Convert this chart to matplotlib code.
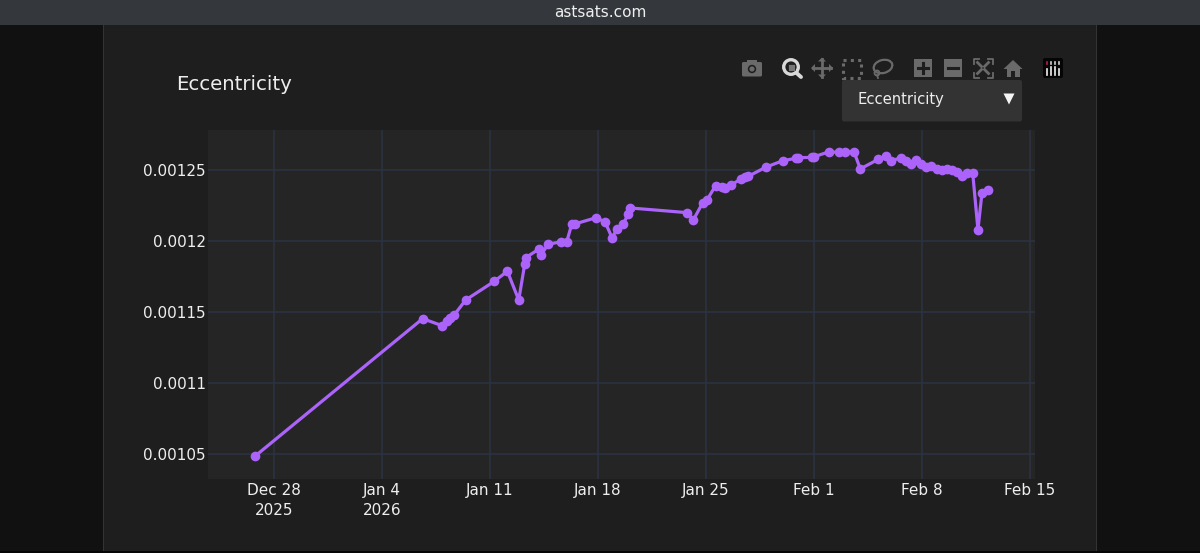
import numpy as np
import matplotlib
matplotlib.use("Agg")
import matplotlib.pyplot as plt
import matplotlib.dates as mdates
from matplotlib.patches import Rectangle, FancyBboxPatch, Circle, Polygon, Ellipse
from datetime import datetime, timedelta

# Data
start_date = datetime(2025, 12, 28)
days_since_start = [-1.26, 9.64, 10.91, 11.20, 11.41, 11.67, 12.43, 14.29, 15.13, 15.87,
                    16.26, 16.32, 17.19, 17.32, 17.77, 18.63, 18.98, 19.31, 19.50, 20.88,
                    21.47, 21.92, 22.24, 22.65, 22.98, 23.11, 26.80, 27.19, 27.80, 28.06,
                    28.64, 29.03, 29.25, 29.64, 30.29, 30.54, 30.76, 31.89, 32.99, 33.85,
                    33.98, 34.87, 35.04, 35.97, 36.62, 37.03, 37.61, 38.02, 39.19, 39.69,
                    39.99, 40.64, 40.99, 41.29, 41.63, 41.94, 42.28, 42.61, 42.98, 43.30,
                    43.63, 43.95, 44.27, 44.60, 44.92, 45.31, 45.65, 45.91, 46.32]
eccentricity_e6 = [1047.9, 1145.3, 1140.3, 1143.6, 1145.5, 1147.7, 1158.5, 1171.7, 1178.8, 1158.5,
                   1184.1, 1188.4, 1194.5, 1190.3, 1197.8, 1199.7, 1199.5, 1212.2, 1212.2, 1216.6,
                   1213.6, 1202.5, 1208.4, 1212.4, 1219.3, 1223.5, 1220.2, 1215.0, 1227.2, 1228.9,
                   1239.3, 1238.6, 1237.4, 1239.8, 1244.0, 1245.2, 1245.9, 1252.3, 1256.9, 1258.6,
                   1259.0, 1259.3, 1259.8, 1263.1, 1262.9, 1263.1, 1263.3, 1251.1, 1257.9, 1260.2,
                   1256.9, 1258.8, 1256.5, 1254.6, 1257.2, 1254.6, 1252.5, 1253.2, 1251.3, 1250.1,
                   1250.8, 1250.6, 1248.9, 1245.9, 1248.4, 1248.2, 1208.2, 1233.9, 1236.0]
x_tick_dates = [datetime(2025, 12, 28), datetime(2026, 1, 4), datetime(2026, 1, 11), datetime(2026, 1, 18),
                datetime(2026, 1, 25), datetime(2026, 2, 1), datetime(2026, 2, 8), datetime(2026, 2, 15)]
x_tick_labels = ["Dec 28\n2025", "Jan 4\n2026", "Jan 11", "Jan 18", "Jan 25", "Feb 1", "Feb 8", "Feb 15"]
y_ticks = [0.00105, 0.0011, 0.00115, 0.0012, 0.00125]
y_tick_labels = ["0.00105", "0.0011", "0.00115", "0.0012", "0.00125"]

W, H = 1200, 553
fig = plt.figure(figsize=(W / 100, H / 100), dpi=100, facecolor="#111111")

# Page chrome drawn in pixel coordinates
bg = fig.add_axes([0, 0, 1, 1], zorder=0)
bg.set_xlim(0, W)
bg.set_ylim(H, 0)
bg.axis("off")
bg.add_patch(Rectangle((0, 0), W, 25, color="#34383c", lw=0))
bg.add_patch(Rectangle((103, 25), 994, H - 27, color="#1e1e1e", lw=0))
bg.add_patch(Rectangle((0, 551), W, 2, color="#050505", lw=0))
bg.add_patch(Rectangle((103, 25), 1.3, H - 27, color="#333333", lw=0))
bg.add_patch(Rectangle((1095.7, 25), 1.3, H - 27, color="#333333", lw=0))
bg.text(600, 12.5, "astsats.com", color="#eeeeee", fontsize=11, ha="center", va="center")
bg.text(176.5, 84, "Eccentricity", color="#eeeeee", fontsize=14.2, ha="left", va="center")

# Toolbar icons
G = "#6a6a6a"
bg.add_patch(FancyBboxPatch((742, 62), 20, 14.5, boxstyle="round,pad=0,rounding_size=1.5", color=G, lw=0))
bg.add_patch(Rectangle((747, 59.5), 10, 3.5, color=G, lw=0))
bg.add_patch(Circle((752, 69), 4.2, fc="#1e1e1e", ec="none"))
bg.add_patch(Circle((752, 69), 2.6, fc=G, ec="none"))
Z = "#d8d8d8"
bg.add_patch(Circle((791, 67), 7.3, fc="none", ec=Z, lw=2.4))
bg.add_patch(Rectangle((787.5, 63.5), 7, 7, fc="#777777", ec="#1e1e1e", lw=0.6))
bg.plot([796, 801], [72.5, 77], color=Z, lw=2.8, solid_capstyle="round")
bg.plot([813, 831], [68, 68], color=G, lw=2)
bg.plot([822, 822], [59, 77], color=G, lw=2)
for mx, my, dx, dy in [(811, 68, 4, 0), (833, 68, -4, 0), (822, 57.5, 0, 4), (822, 78.5, 0, -4)]:
    bg.add_patch(Polygon([(mx, my), (mx + dx + dy, my + dy + dx), (mx + dx - dy, my + dy - dx)], color=G, lw=0))
bg.add_patch(Rectangle((843, 60), 18, 18, fc="none", ec=G, lw=2.2, ls=(0, (1, 1.4))))
bg.add_patch(Ellipse((883, 66.5), 19, 13, angle=-15, fc="none", ec=G, lw=1.6))
bg.add_patch(Circle((877, 73), 2.5, fc="none", ec=G, lw=1.3))
bg.plot([877, 878], [75, 78], color=G, lw=1.3)
bg.add_patch(Rectangle((914, 59), 18, 18, color=G, lw=0))
bg.plot([918, 928], [68, 68], color="#1e1e1e", lw=2.2)
bg.plot([923, 923], [63, 73], color="#1e1e1e", lw=2.2)
bg.add_patch(Rectangle((944, 59), 18, 18, color=G, lw=0))
bg.plot([948, 958], [68, 68], color="#1e1e1e", lw=2.2)
for sx, sy in [(-1, -1), (1, -1), (-1, 1), (1, 1)]:
    cx, cy = 983 + sx * 9.5, 68 + sy * 9.5
    bg.plot([cx - sx * 5, cx, cx], [cy, cy, cy - sy * 5], color=G, lw=1.3)
    bg.plot([983 + sx * 1.5, 983 + sx * 5.5], [68 + sy * 1.5, 68 + sy * 5.5], color=G, lw=2)
bg.add_patch(Polygon([(1003.5, 69), (1013, 60), (1022.5, 69)], color=G, lw=0))
bg.add_patch(Rectangle((1006.5, 69), 13, 7.5, color=G, lw=0))
bg.add_patch(Rectangle((1011, 71), 4, 5.5, color="#1e1e1e", lw=0))
bg.add_patch(FancyBboxPatch((1043, 58), 20, 20, boxstyle="round,pad=0,rounding_size=2", color="#050505", lw=0))
for bx, top in zip([1047, 1051, 1055, 1059], [69, 67, 67, 69]):
    bg.plot([bx, bx], [top, 74.5], color="#f0f0f0", lw=1.2)
    bg.plot([bx, bx], [62, 64], color="#b02050" if bx == 1047 else "#d0d0d0", lw=1.2)

# Dropdown
bg.add_patch(FancyBboxPatch((842, 80), 180, 41.5, boxstyle="round,pad=0,rounding_size=2", color="#333333", lw=0))
bg.text(857.5, 99.5, "Eccentricity", color="#eeeeee", fontsize=10.6, ha="left", va="center")
bg.add_patch(Polygon([(1003.5, 93.5), (1014.5, 93.5), (1009, 104.5)], color="#f5f5f5", lw=0))

# Plot
ax = fig.add_axes([208.5 / W, 1 - 479 / H, (1035 - 208.5) / W, (479 - 130) / H], zorder=1, facecolor="#252525")
dates = [start_date + timedelta(days=d) for d in days_since_start]
values = [v * 1e-6 for v in eccentricity_e6]
ax.plot(dates, values, color="#ab63fa", lw=2.3, marker="o", ms=7, mew=0, zorder=3, clip_on=False)
ax.set_xlim(start_date + timedelta(days=-4.25), start_date + timedelta(days=49.35))
ax.set_ylim(1032.0e-6, 1278.6e-6)
ax.set_xticks([mdates.date2num(d) for d in x_tick_dates])
ax.set_xticklabels(x_tick_labels, linespacing=1.38)
ax.set_yticks(y_ticks)
ax.set_yticklabels(y_tick_labels)
ax.grid(True, color="#2a3340", lw=1.2)
ax.set_axisbelow(True)
for s in ax.spines.values():
    s.set_visible(False)
ax.tick_params(length=0, colors="#eeeeee", labelsize=11)
ax.tick_params(axis="x", pad=3)
ax.tick_params(axis="y", pad=2)

fig.savefig("out.png", dpi=100, facecolor=fig.get_facecolor())
